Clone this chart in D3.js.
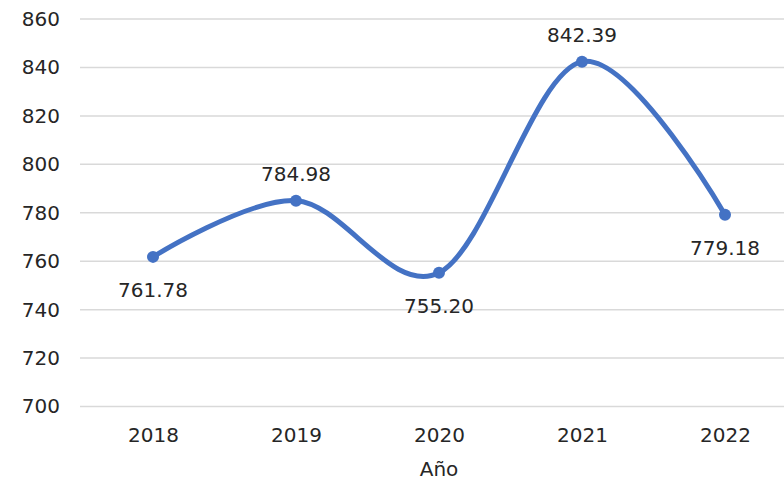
<!DOCTYPE html>
<html>
<head>
<meta charset="utf-8">
<script src="https://cdn.jsdelivr.net/npm/d3@7"></script>
<style>
  body { margin: 0; background: #fff; }
  text { font-family: "DejaVu Sans", sans-serif; fill: #262626; }
</style>
</head>
<body>
<div id="chart"></div>
<script>
// data
const years = ['2018', '2019', '2020', '2021', '2022'];
const values = [761.78, 784.98, 755.20, 842.39, 779.18];
const labelPos = ['below', 'above', 'below', 'above', 'below'];
const yTicks = [700, 720, 740, 760, 780, 800, 820, 840, 860];

const width = 784, height = 483;
const font = '"DejaVu Sans", sans-serif';

const svg = d3.select('#chart')
  .append('svg')
  .attr('width', width)
  .attr('height', height);

const x = d3.scalePoint().domain(years).range([153, 725]);
const y = d3.scaleLinear().domain([700, 860]).range([406.5, 19]);

// grid lines
svg.append('g')
  .selectAll('line')
  .data(yTicks)
  .join('line')
  .attr('x1', 80)
  .attr('x2', width)
  .attr('y1', d => y(d))
  .attr('y2', d => y(d))
  .attr('stroke', '#d9d9d9')
  .attr('stroke-width', 1.5);

// y axis labels
const yAxis = svg.append('g')
  .attr('transform', 'translate(60,0)')
  .call(d3.axisLeft(y).tickValues(yTicks).tickSize(0).tickPadding(0));
yAxis.select('.domain').remove();
yAxis.selectAll('text')
  .style('font-size', '20px')
  .style('font-family', font)
  .attr('fill', '#262626');

// x axis labels
const xAxis = svg.append('g')
  .attr('transform', 'translate(0,422)')
  .call(d3.axisBottom(x).tickSize(0).tickPadding(6));
xAxis.select('.domain').remove();
xAxis.selectAll('text')
  .style('font-size', '20px')
  .style('font-family', font)
  .attr('fill', '#262626');

svg.append('text')
  .attr('x', 439)
  .attr('y', 476)
  .attr('text-anchor', 'middle')
  .style('font-size', '20px')
  .text('Año');

// line
const line = d3.line()
  .x((d, i) => x(years[i]))
  .y(d => y(d))
  .curve(d3.curveCatmullRom.alpha(0));

svg.append('path')
  .datum(values)
  .attr('d', line)
  .attr('fill', 'none')
  .attr('stroke', '#4472c4')
  .attr('stroke-width', 5)
  .attr('stroke-linecap', 'round');

svg.append('g')
  .selectAll('circle')
  .data(values)
  .join('circle')
  .attr('cx', (d, i) => x(years[i]))
  .attr('cy', d => y(d))
  .attr('r', 6)
  .attr('fill', '#4472c4');

svg.append('g')
  .selectAll('text')
  .data(values)
  .join('text')
  .attr('x', (d, i) => x(years[i]))
  .attr('y', (d, i) => labelPos[i] === 'above' ? y(d) - 20 : y(d) + 40)
  .attr('text-anchor', 'middle')
  .style('font-size', '20px')
  .text(d => d.toFixed(2));
</script>
</body>
</html>
